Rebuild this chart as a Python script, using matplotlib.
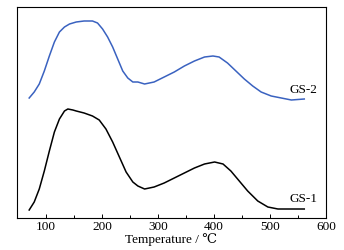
import matplotlib
matplotlib.use("Agg")
import matplotlib.pyplot as plt
from matplotlib.ticker import FixedLocator

# values (temperature in C, signal in arbitrary units)
t_gs2 = [70, 79, 88, 97, 106, 115, 124, 133, 142, 154, 168, 183, 192, 201, 210,
         219, 228, 237, 246, 255, 264, 276, 293, 311, 329, 347, 365, 383, 398,
         409, 424, 439, 454, 469, 484, 502, 520, 538, 561]
gs2 = [120, 126, 134, 147, 162, 176, 186, 191, 194, 196, 197, 197, 195, 189, 181,
       171, 159, 147, 140, 136, 136, 134, 136, 141, 146, 152, 157, 161, 162,
       161, 155, 147, 139, 132, 126, 122, 120, 118, 119]

t_gs1 = [70, 79, 88, 97, 106, 115, 124, 133, 139, 148, 154, 168, 183, 195, 207,
         219, 231, 243, 255, 264, 276, 293, 311, 329, 347, 365, 383, 401, 416,
         430, 445, 460, 478, 496, 514, 526, 561]
gs1 = [8, 16, 29, 47, 67, 86, 99, 107, 109, 108, 107, 105, 102, 98, 89,
       76, 61, 46, 36, 32, 29, 31, 35, 40, 45, 50, 54, 56, 54,
       47, 37, 27, 17, 11, 9, 9, 9]

labels = ["GS-2", "GS-1"]
xticks = [100, 200, 300, 400, 500, 600]
minor_ticks = [150, 250, 350, 450, 550]

plt.rcParams['font.family'] = ['Liberation Serif', 'DejaVu Serif']
plt.rcParams['font.size'] = 9.5

fig = plt.figure(figsize=(3.44, 2.5), dpi=100)
ax = fig.add_axes([0.049, 0.128, 0.899, 0.844])

ax.plot(t_gs2, gs2, color='#3a62c0', lw=1.1)
ax.plot(t_gs1, gs1, color='black', lw=1.1)

ax.text(534, 128, labels[0], va='center', ha='left')
ax.text(534, 19, labels[1], va='center', ha='left')

ax.set_xlim(48, 600)
ax.set_ylim(0, 211)
ax.set_xticks(xticks)
ax.xaxis.set_minor_locator(FixedLocator(minor_ticks))
ax.set_yticks([])
ax.tick_params(axis='x', which='major', direction='in', length=3, width=0.7, pad=2)
ax.tick_params(axis='x', which='minor', direction='in', length=2, width=0.7)
for s in ax.spines.values():
    s.set_linewidth(0.8)
ax.set_xlabel('Temperature / ℃', labelpad=0)

fig.savefig('out.png', dpi=100)
